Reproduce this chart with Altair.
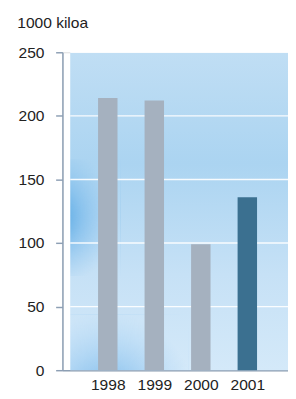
import altair as alt
import pandas as pd

# ---- data ----
years = [1998, 1999, 2000, 2001]
values = [214, 212, 99, 136]
bar_colors = ["#a5b1bf", "#a5b1bf", "#a5b1bf", "#3b7090"]
y_ticks = [0, 50, 100, 150, 200, 250]
grid_values = [50, 100, 150, 200, 250]
y_title = "1000 kiloa"

W, H = 232, 327
AXIS_COLOR = "#8d9fb4"
TEXT_COLOR = "#222222"
FONT = "Liberation Sans"

df = pd.DataFrame({"year": years, "value": values, "color": bar_colors})
grid_df = pd.DataFrame({"value": grid_values})

xscale = alt.Scale(domain=[1997.13, 2001.77], nice=False, zero=False)
yscale = alt.Scale(domain=[0, 250], nice=False)

y_axis = alt.Axis(
    values=y_ticks, grid=False, tickSize=7, tickColor=AXIS_COLOR, tickWidth=1.5,
    domainColor=AXIS_COLOR, domainWidth=1.5,
    labelFontSize=16, labelPadding=12, labelColor=TEXT_COLOR, labelFont=FONT,
    title=y_title, titleAngle=0, titleAlign="left", titleBaseline="alphabetic",
    titleX=-47, titleY=-25, titleFontSize=16, titleFontWeight="normal",
    titleColor=TEXT_COLOR, titleFont=FONT,
)

one = alt.Data(values=[{"a": 1}])

# sky-like background
bg = alt.Chart(one).mark_rect(
    color=alt.Gradient(
        gradient="linear",
        stops=[
            alt.GradientStop(color="#c0def4", offset=0),
            alt.GradientStop(color="#abd4f1", offset=0.35),
            alt.GradientStop(color="#c6e1f6", offset=0.7),
            alt.GradientStop(color="#d4e9f9", offset=1),
        ],
        x1=0, x2=0, y1=0, y2=1,
    )
).encode(x=alt.value(8), x2=alt.value(W), y=alt.value(0), y2=alt.value(H))

blob1 = alt.Chart(one).mark_rect(
    color=alt.Gradient(
        gradient="radial",
        stops=[
            alt.GradientStop(color="rgba(35,140,215,0.85)", offset=0),
            alt.GradientStop(color="rgba(80,165,230,0.4)", offset=0.5),
            alt.GradientStop(color="rgba(120,185,235,0)", offset=1),
        ],
        x1=0.1, y1=0.5, x2=0.1, y2=0.5, r1=0, r2=0.6,
    )
).encode(x=alt.value(8), x2=alt.value(60), y=alt.value(110), y2=alt.value(230))

blob2 = alt.Chart(one).mark_rect(
    color=alt.Gradient(
        gradient="radial",
        stops=[
            alt.GradientStop(color="rgba(80,160,225,0.8)", offset=0),
            alt.GradientStop(color="rgba(110,180,235,0.35)", offset=0.55),
            alt.GradientStop(color="rgba(140,195,240,0)", offset=1),
        ],
        x1=0.3, y1=1, x2=0.3, y2=1, r1=0, r2=0.75,
    )
).encode(x=alt.value(8), x2=alt.value(130), y=alt.value(270), y2=alt.value(H))

grid = alt.Chart(grid_df).mark_rule(color="white", strokeWidth=1.5, opacity=0.9).encode(
    y=alt.Y("value:Q", scale=yscale, axis=y_axis),
    x=alt.value(8),
    x2=alt.value(W),
)

bars = alt.Chart(df).mark_bar(orient="vertical", size=20).encode(
    x=alt.X(
        "year:Q",
        scale=xscale,
        axis=alt.Axis(
            values=years, format="d", ticks=False, tickSize=0, grid=False,
            domainColor=AXIS_COLOR, domainWidth=1.5,
            labelFontSize=16, labelBaseline="alphabetic", labelPadding=20,
            labelFlush=False, labelColor=TEXT_COLOR, labelFont=FONT, title=None,
        ),
    ),
    y=alt.Y("value:Q", scale=yscale, axis=y_axis),
    color=alt.Color("color:N", scale=None),
)

chart = alt.layer(bg, blob1, blob2, grid, bars).properties(
    width=W,
    height=H,
    autosize=alt.AutoSizeParams(type="none"),
    padding={"left": 56, "top": 40, "right": 0, "bottom": 22},
).configure_view(stroke=None).configure(background="white")

chart.save("out.html", embed_options={"renderer": "svg", "actions": False})
